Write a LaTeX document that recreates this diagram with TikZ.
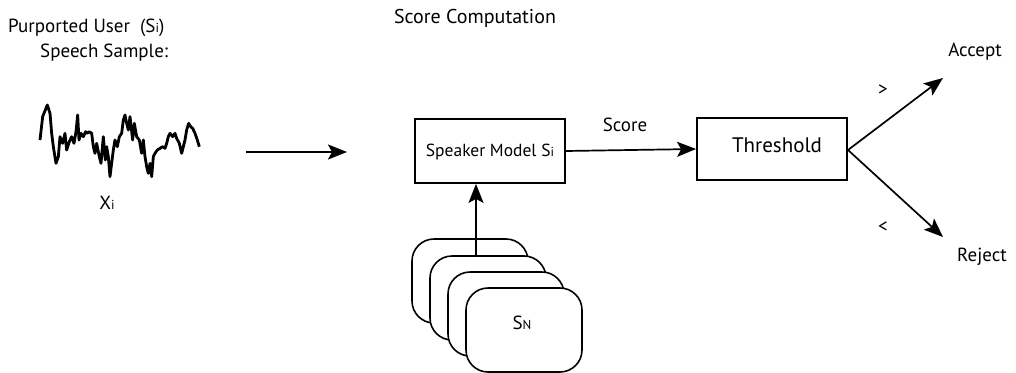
\documentclass[tikz,border=0pt]{standalone}
\usepackage{fontspec}
\setmainfont{PT Sans}
\usetikzlibrary{arrows.meta}
\tikzset{
  lbl/.style={inner sep=0pt, font=\fontsize{19}{21}\selectfont},
  blockbox/.style={draw, line width=1.8pt, inner sep=0pt},
  card/.style={draw, line width=1.6pt, fill=white, rounded corners=22pt},
  flow/.style={line width=1.7pt, -{Stealth[length=19pt,width=15pt,inset=4pt]}},
}
\newcommand{\sub}[1]{{\fontsize{13}{13}\selectfont #1}}
\begin{document}
\begin{tikzpicture}[x=1pt,y=-1pt]
\useasboundingbox (0,0) rectangle (1016,372);

% input description
\node[lbl, anchor=base west] (t1) at (8,32) {Purported User\ \ (S\sub{i})};
\node[lbl, anchor=base west] (t2) at (40,57) {Speech Sample:};

% speech waveform
\begin{scope}[scale=1/3]
\draw[line width=2.8pt, line join=round] (120,420) -- (128,350) -- (142,315) -- (150,340) -- (155,400) -- (160,440) -- (168,490) -- (175,470) -- (180,410) -- (188,430) -- (195,400) -- (200,450) -- (208,425) -- (215,410) -- (222,430) -- (228,395) -- (233,345) -- (237,420) -- (243,400) -- (250,410) -- (257,395) -- (262,400) -- (268,395) -- (275,400) -- (280,440) -- (285,460) -- (290,430) -- (298,470) -- (303,490) -- (310,410) -- (316,480) -- (320,440) -- (325,470) -- (330,530) -- (335,490) -- (340,450) -- (345,420) -- (352,440) -- (358,410) -- (365,400) -- (370,360) -- (375,345) -- (380,370) -- (385,390) -- (390,350) -- (398,420) -- (403,370) -- (410,410) -- (418,420) -- (425,460) -- (430,420) -- (435,470) -- (440,500) -- (445,520) -- (450,490) -- (455,530) -- (460,470) -- (465,460) -- (472,450) -- (480,445) -- (488,440) -- (495,445) -- (500,430) -- (505,410) -- (510,400) -- (518,410) -- (525,400) -- (530,415) -- (538,430) -- (545,460) -- (550,440) -- (555,420) -- (560,390) -- (566,370) -- (572,380) -- (578,385) -- (585,400) -- (592,420) -- (598,440);
\end{scope}
\node[lbl, anchor=base] (xi) at (107,209) {X\sub{i}};

% arrow into the score computation
\coordinate (ain) at (246,152);
\coordinate (aout) at (347,152);
\draw[flow] (ain) -- (aout);

\node[lbl, font=\fontsize{20}{22}\selectfont] (sc) at (475,18) {Score Computation};

% speaker models stack
\draw[card] (412,239) rectangle (528,323);
\draw[card] (430,256) rectangle (546,340);
\draw[card] (448,272) rectangle (564,356);
\node[card, minimum width=116pt, minimum height=84pt, inner sep=0pt] (sn) at (524,330) {};
\node[lbl] at (522,323) {S\sub{N}};

% speaker model block
\node[blockbox, minimum width=150pt, minimum height=64pt] (sm) at (490,151) {};
\node[lbl, font=\fontsize{17.5}{19}\selectfont] (smt) at (490,152) {Speaker Model S\sub{i}};
\coordinate (stk) at (476,256);
\draw[flow] (stk) -- (sm.south -| stk);

% threshold block
\node[blockbox, minimum width=150pt, minimum height=62pt] (th) at (772,149) {};
\node[lbl, font=\fontsize{21}{23}\selectfont] (tht) at (777,145) {Threshold};
\draw[flow] (sm.east) -- (th.west);
\node[lbl] (score) at (625,125) {Score};

% decision
\coordinate (dec) at (848,150);
\coordinate (acc) at (943,78);
\coordinate (rej) at (943,237);
\draw[flow] (dec) -- (acc);
\draw[flow] (dec) -- (rej);
\node[lbl] (gt) at (883,90) {>};
\node[lbl] (lt) at (883,227) {<};
\node[lbl] (accept) at (975,52) {Accept};
\node[lbl] (reject) at (982,257) {Reject};
\end{tikzpicture}
\end{document}
